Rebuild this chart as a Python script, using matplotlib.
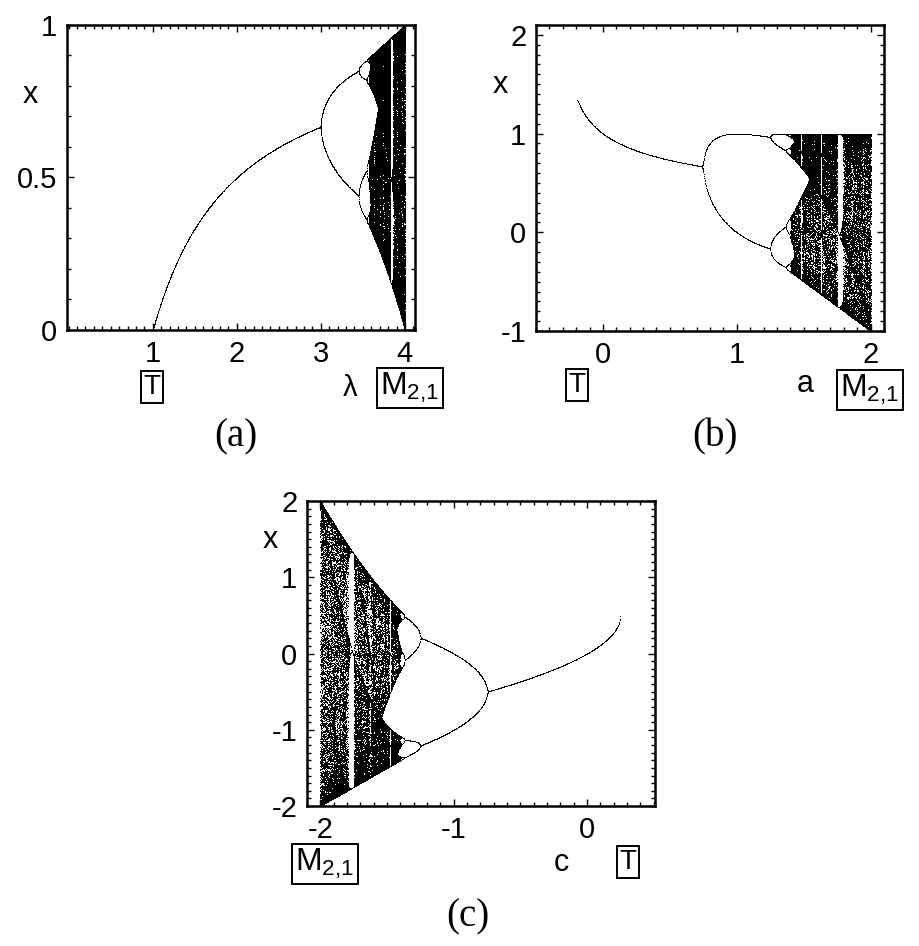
import matplotlib
matplotlib.use("Agg")
import matplotlib.pyplot as plt
import numpy as np

# parameter ranges (start, stop) and the sampling used
logistic_range = [1.0, 4.0]        # (a) x -> lambda*x*(1-x)
quadratic_a_range = [-0.19, 2.0]   # (b) x -> 1 - a*x^2
quadratic_c_range = [-2.0, 0.25]   # (c) x -> x^2 + c
n_params = [1400, 1000, 1000]
n_transient = [300, 300, 300]
n_keep = [300, 140, 140]
x_start = [0.3, 0.2, 0.1]

panel_labels = ["(a)", "(b)", "(c)"]
param_names = ["λ", "a", "c"]
xticks_list = [[1, 2, 3, 4], [0, 1, 2], [-2, -1, 0]]
yticks_list = [[0, 0.5, 1], [-1, 0, 1, 2], [-2, -1, 0, 1, 2]]
ytick_text = [["0", "0.5", "1"], ["-1", "0", "1", "2"], ["-2", "-1", "0", "1", "2"]]

plt.rcParams['font.family'] = ['Liberation Sans', 'DejaVu Sans']
plt.rcParams['mathtext.default'] = 'regular'
plt.rcParams['axes.unicode_minus'] = False

W, H = 920, 946


def orbit(f, p, x0, n_tr, n_k):
    x = np.full_like(p, x0)
    for _ in range(n_tr):
        x = f(x, p)
    out = np.empty((n_k, p.size))
    for i in range(n_k):
        x = f(x, p)
        out[i] = x
    pp = np.broadcast_to(p, out.shape)
    return pp.ravel(), out.ravel()


maps = [
    lambda x, p: p * x * (1 - x),
    lambda x, p: np.clip(1 - p * x * x, -3.0, 3.0),
    lambda x, p: np.clip(x * x + p, -2.0, 2.0),
]
ranges = [logistic_range, quadratic_a_range, quadratic_c_range]

fig = plt.figure(figsize=(W / 100, H / 100), dpi=100)


def px_axes(left, top, right, bottom):
    return fig.add_axes([left / W, 1 - bottom / H, (right - left) / W, (bottom - top) / H])


def ftext(x, y, s, **kw):
    fig.text(x / W, 1 - y / H, s, ha='center', va='center', **kw)


axes_px = [(67, 25, 415, 330), (536, 25, 884, 331), (307, 501, 655, 806)]
xlims = [(-0.02, 4.12), (-0.5, 2.1), (-2.1, 0.51)]
ylims = [(0, 1), (-1, 2.1), (-2, 2)]

for i in range(3):
    ax = px_axes(*axes_px[i])
    p = np.linspace(ranges[i][0], ranges[i][1], n_params[i])
    pp, xx = orbit(maps[i], p, x_start[i], n_transient[i], n_keep[i])
    ax.plot(pp, xx, 's', color='black', markersize=0.65, markeredgewidth=0)
    ax.set_xlim(*xlims[i])
    ax.set_ylim(*ylims[i])
    ax.set_xticks(xticks_list[i])
    ax.set_xticklabels([str(t) for t in xticks_list[i]])
    ax.set_yticks(yticks_list[i])
    ax.set_yticklabels(ytick_text[i])
    ax.xaxis.set_minor_locator(matplotlib.ticker.MultipleLocator(0.1))
    ax.yaxis.set_minor_locator(matplotlib.ticker.MultipleLocator(0.1))
    ax.tick_params(which='both', direction='in', top=True, right=True, width=1)
    ax.tick_params(which='major', length=5, labelsize=21, pad=7)
    ax.tick_params(which='minor', length=3)
    for s in ax.spines.values():
        s.set_linewidth(1.8)

box = dict(boxstyle='square,pad=0.1', fc='white', ec='black', lw=1.4)
msub = "M$_{2{,}1}$"

# (a)
ftext(30, 95, "x", fontsize=22)
ftext(350, 388, "λ", fontsize=21)
ftext(152, 387, "T", fontsize=20, bbox=box)
ftext(410, 388, msub, fontsize=23, bbox=box)
ftext(236, 437, "(a)", fontsize=28, family='Liberation Serif')

# (b)
ftext(500, 85, "x", fontsize=22)
ftext(805, 384, "a", fontsize=22)
ftext(577, 385, "T", fontsize=20, bbox=box)
ftext(870, 390, msub, fontsize=23, bbox=box)
ftext(715, 437, "(b)", fontsize=28, family='Liberation Serif')

# (c)
ftext(270, 540, "x", fontsize=22)
ftext(561, 863, "c", fontsize=22)
ftext(628, 862, "T", fontsize=20, bbox=box)
ftext(325, 864, msub, fontsize=23, bbox=box)
ftext(468, 917, "(c)", fontsize=28, family='Liberation Serif')

plt.savefig("out.png", dpi=100)
